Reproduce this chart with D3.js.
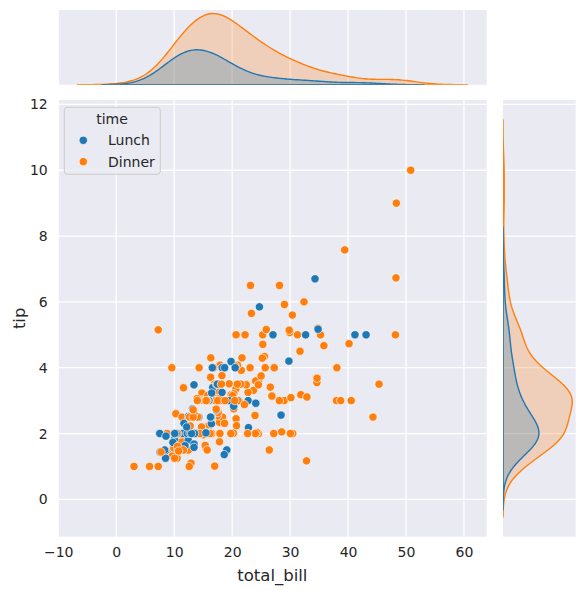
<!DOCTYPE html>
<html>
<head>
<meta charset="utf-8">
<script src="https://cdn.jsdelivr.net/npm/d3@7"></script>
<style>
  body { margin: 0; background: #fff; }
  text { font-family: "DejaVu Sans", sans-serif; fill: #262626; }
</style>
</head>
<body>
<script>
// tips data, in file order
var totalBill = [
  16.99,10.34,21.01,23.68,24.59,25.29,8.77,26.88,15.04,14.78,
  10.27,35.26,15.42,18.43,14.83,21.58,10.33,16.29,16.97,20.65,
  17.92,20.29,15.77,39.42,19.82,17.81,13.37,12.69,21.7,19.65,
  9.55,18.35,15.06,20.69,17.78,24.06,16.31,16.93,18.69,31.27,
  16.04,17.46,13.94,9.68,30.4,18.29,22.23,32.4,28.55,18.04,
  12.54,10.29,34.81,9.94,25.56,19.49,38.01,26.41,11.24,48.27,
  20.29,13.81,11.02,18.29,17.59,20.08,16.45,3.07,20.23,15.01,
  12.02,17.07,26.86,25.28,14.73,10.51,17.92,27.2,22.76,17.29,
  19.44,16.66,10.07,32.68,15.98,34.83,13.03,18.28,24.71,21.16,
  28.97,22.49,5.75,16.32,22.75,40.17,27.28,12.03,21.01,12.46,
  11.35,15.38,44.3,22.42,20.92,15.36,20.49,25.21,18.24,14.31,
  14.0,7.25,38.07,23.95,25.71,17.31,29.93,10.65,12.43,24.08,
  11.69,13.42,14.26,15.95,12.48,29.8,8.52,14.52,11.38,22.82,
  19.08,20.27,11.17,12.26,18.26,8.51,10.33,14.15,16.0,13.16,
  17.47,34.3,41.19,27.05,16.43,8.35,18.64,11.87,9.78,7.51,
  14.07,13.13,17.26,24.55,19.77,29.85,48.17,25.0,13.39,16.49,
  21.5,12.66,16.21,13.81,17.51,24.52,20.76,31.71,10.59,10.63,
  50.81,15.81,7.25,31.85,16.82,32.9,17.89,14.48,9.6,34.63,
  34.65,23.33,45.35,23.17,40.55,20.69,20.9,30.46,18.15,23.1,
  15.69,19.81,28.44,15.48,16.58,7.56,10.34,43.11,13.0,13.51,
  18.71,12.74,13.0,16.4,20.53,16.47,26.59,38.73,24.27,12.76,
  30.06,25.89,48.33,13.27,28.17,12.9,28.15,11.59,7.74,30.14,
  12.16,13.42,8.58,15.98,13.42,16.27,10.09,20.45,13.28,22.12,
  24.01,15.69,11.61,10.77,15.53,10.07,12.6,32.83,35.83,29.03,
  27.18,22.67,17.82,18.78
];
var tip = [
  1.01,1.66,3.5,3.31,3.61,4.71,2.0,3.12,1.96,3.23,
  1.71,5.0,1.57,3.0,3.02,3.92,1.67,3.71,3.5,3.35,
  4.08,2.75,2.23,7.58,3.18,2.34,2.0,2.0,4.3,3.0,
  1.45,2.5,3.0,2.45,3.27,3.6,2.0,3.07,2.31,5.0,
  2.24,2.54,3.06,1.32,5.6,3.0,5.0,6.0,2.05,3.0,
  2.5,2.6,5.2,1.56,4.34,3.51,3.0,1.5,1.76,6.73,
  3.21,2.0,1.98,3.76,2.64,3.15,2.47,1.0,2.01,2.09,
  1.97,3.0,3.14,5.0,2.2,1.25,3.08,4.0,3.0,2.71,
  3.0,3.4,1.83,5.0,2.03,5.17,2.0,4.0,5.85,3.0,
  3.0,3.5,1.0,4.3,3.25,4.73,4.0,1.5,3.0,1.5,
  2.5,3.0,2.5,3.48,4.08,1.64,4.06,4.29,3.76,4.0,
  3.0,1.0,4.0,2.55,4.0,3.5,5.07,1.5,1.8,2.92,
  2.31,1.68,2.5,2.0,2.52,4.2,1.48,2.0,2.0,2.18,
  1.5,2.83,1.5,2.0,3.25,1.25,2.0,2.0,2.0,2.75,
  3.5,6.7,5.0,5.0,2.3,1.5,1.36,1.63,1.73,2.0,
  2.5,2.0,2.74,2.0,2.0,5.14,5.0,3.75,2.61,2.0,
  3.5,2.5,2.0,2.0,3.0,3.48,2.24,4.5,1.61,2.0,
  10.0,3.16,5.15,3.18,4.0,3.11,2.0,2.0,4.0,3.55,
  3.68,5.65,3.5,6.5,3.0,5.0,3.5,2.0,3.5,4.0,
  1.5,4.19,2.56,2.02,4.0,1.44,2.0,5.0,2.0,2.0,
  4.0,2.01,2.0,2.5,4.0,3.23,3.41,3.0,2.03,2.23,
  2.0,5.16,9.0,2.5,6.5,1.1,3.0,1.5,1.44,3.09,
  2.2,3.48,1.92,3.0,1.58,2.5,2.0,3.0,2.72,2.88,
  2.0,3.0,3.39,1.47,3.0,1.25,1.0,1.17,4.67,5.92,
  2.0,2.0,1.75,3.0
];
// L = Lunch, D = Dinner, one letter per row
var timeCode = [
  'DDDDDDDDDD','DDDDDDDDDD','DDDDDDDDDD','DDDDDDDDDD','DDDDDDDDDD',
  'DDDDDDDDDD','DDDDDDDDDD','DDDDDDDLLL','LLLLLLLLLL','DDDDDDDDDD',
  'DDDDDDDDDD','DDDDDDDLLL','LLLLLLLLLL','LLLLLLLLLL','LLLLLLLLLL',
  'DDDDDDDDDD','DDDDDDDDDD','DDDDDDDDDD','DDDDDDDDDD','DLLLLLLLLL',
  'LLLLLLDDDD','DDDDDDDDDD','LLLLLLLDDD','DDDDDDDDDD','DDDD'
].join('');
var timeLevels = ['Lunch', 'Dinner'];
var timeColors = ['#1f77b4', '#ff7f0e'];
var xTicks = [-10, 0, 10, 20, 30, 40, 50, 60];
var yTicks = [0, 2, 4, 6, 8, 10, 12];

var rows = totalBill.map(function(b, i) {
  return { bill: b, tip: tip[i], time: timeCode[i] == 'L' ? 'Lunch' : 'Dinner' };
});

// gaussian kde, scott's rule like scipy, cut = 3, 200 points
function kde(vals, total) {
  var n = vals.length;
  var bw = Math.pow(n, -0.2) * d3.deviation(vals);
  var lo = d3.min(vals) - 3 * bw, hi = d3.max(vals) + 3 * bw;
  var pts = [];
  for (var k = 0; k < 200; k++) {
    var s = lo + (hi - lo) * k / 199;
    var sum = 0;
    vals.forEach(function(v) { var z = (s - v) / bw; sum += Math.exp(-0.5 * z * z); });
    pts.push([s, sum / (n * bw * Math.sqrt(2 * Math.PI)) * n / total]);
  }
  return pts;
}

var N = rows.length;
var kdeX = {}, kdeY = {};
timeLevels.forEach(function(t) {
  var sub = rows.filter(function(r) { return r.time == t; });
  kdeX[t] = kde(sub.map(function(r) { return r.bill; }), N);
  kdeY[t] = kde(sub.map(function(r) { return r.tip; }), N);
});

function padded(lo, hi) { var m = (hi - lo) * 0.05; return [lo - m, hi + m]; }
var allX = d3.merge(timeLevels.map(function(t) { return kdeX[t]; }));
var allY = d3.merge(timeLevels.map(function(t) { return kdeY[t]; }));
var xlim = padded(d3.min(allX, function(p) { return p[0]; }), d3.max(allX, function(p) { return p[0]; }));
var ylim = padded(d3.min(allY, function(p) { return p[0]; }), d3.max(allY, function(p) { return p[0]; }));

var main = { l: 58, r: 486.7, t: 100, b: 536.7 };
var topM = { l: 58, r: 486.7, t: 10, b: 84.7 };
var rightM = { l: 503, r: 575.7, t: 100, b: 536.7 };

var x = d3.scaleLinear().domain(xlim).range([main.l, main.r]);
var y = d3.scaleLinear().domain(ylim).range([main.b, main.t]);
var denX = d3.scaleLinear().domain([0, d3.max(allX, function(p) { return p[1]; }) * 1.05]).range([topM.b, topM.t]);
var denY = d3.scaleLinear().domain([0, d3.max(allY, function(p) { return p[1]; }) * 1.05]).range([rightM.l, rightM.r]);

var svg = d3.select('body').append('svg')
            .attr('width', 585)
            .attr('height', 590);

var defs = svg.append('defs');
[['clipMain', main], ['clipTop', topM], ['clipRight', rightM]].forEach(function(c) {
  defs.append('clipPath').attr('id', c[0]).append('rect')
      .attr('x', c[1].l).attr('y', c[1].t)
      .attr('width', c[1].r - c[1].l).attr('height', c[1].b - c[1].t);
});

[main, topM, rightM].forEach(function(a) {
  svg.append('rect')
     .attr('x', a.l).attr('y', a.t)
     .attr('width', a.r - a.l).attr('height', a.b - a.t)
     .style('fill', '#eaeaf2');
});

// grid
var grid = svg.append('g').style('stroke', '#fff').style('stroke-width', 1.3);
xTicks.forEach(function(v) {
  grid.append('line').attr('x1', x(v)).attr('x2', x(v)).attr('y1', main.t).attr('y2', main.b);
  grid.append('line').attr('x1', x(v)).attr('x2', x(v)).attr('y1', topM.t).attr('y2', topM.b);
});
yTicks.forEach(function(v) {
  grid.append('line').attr('y1', y(v)).attr('y2', y(v)).attr('x1', main.l).attr('x2', main.r);
  grid.append('line').attr('y1', y(v)).attr('y2', y(v)).attr('x1', rightM.l).attr('x2', rightM.r);
});

// axes
var xAxis = svg.append('g')
  .attr('transform', 'translate(0,' + main.b + ')')
  .call(d3.axisBottom(x).tickValues(xTicks).tickSize(0).tickPadding(10.5));
var yAxis = svg.append('g')
  .attr('transform', 'translate(' + main.l + ',0)')
  .call(d3.axisLeft(y).tickValues(yTicks).tickSize(0).tickPadding(10.3));
[xAxis, yAxis].forEach(function(g) {
  g.select('.domain').remove();
  g.selectAll('text').style('font-size', '14px').style('font-family', '"DejaVu Sans"').style('fill', '#262626');
});

svg.append('text')
   .attr('x', (main.l + main.r) / 2).attr('y', 581)
   .attr('text-anchor', 'middle')
   .style('font-size', '16.5px')
   .text('total_bill');
svg.append('text')
   .attr('transform', 'translate(25,' + ((main.t + main.b) / 2) + ') rotate(-90)')
   .attr('text-anchor', 'middle')
   .style('font-size', '16.5px')
   .text('tip');

// scatter
var color = d3.scaleOrdinal().domain(timeLevels).range(timeColors);
svg.append('g').attr('clip-path', 'url(#clipMain)')
   .selectAll('circle')
   .data(rows)
   .enter().append('circle')
   .attr('cx', function(d) { return x(d.bill); })
   .attr('cy', function(d) { return y(d.tip); })
   .attr('r', 4.17)
   .style('fill', function(d) { return color(d.time); })
   .style('stroke', '#fff')
   .style('stroke-width', 0.67);

// marginal densities, last level drawn first
var order = timeLevels.slice().reverse();
var topG = svg.append('g').attr('clip-path', 'url(#clipTop)');
var areaX = d3.area().x(function(p) { return x(p[0]); }).y0(denX(0)).y1(function(p) { return denX(p[1]); });
order.forEach(function(t) {
  topG.append('path')
      .attr('d', areaX(kdeX[t]) )
      .style('fill', color(t)).style('fill-opacity', 0.25)
      .style('stroke', color(t)).style('stroke-width', 1.4);
});
var rightG = svg.append('g').attr('clip-path', 'url(#clipRight)');
var areaY = d3.area().y(function(p) { return y(p[0]); }).x0(denY(0)).x1(function(p) { return denY(p[1]); });
order.forEach(function(t) {
  rightG.append('path')
      .attr('d', areaY(kdeY[t]))
      .style('fill', color(t)).style('fill-opacity', 0.25)
      .style('stroke', color(t)).style('stroke-width', 1.4);
});

// legend
var leg = svg.append('g');
leg.append('rect')
   .attr('x', 64.3).attr('y', 107.3)
   .attr('width', 96).attr('height', 67)
   .attr('rx', 3)
   .style('fill', '#eaeaf2').style('fill-opacity', 0.8)
   .style('stroke', '#cccccc').style('stroke-width', 1);
leg.append('text')
   .attr('x', 112).attr('y', 124.3)
   .attr('text-anchor', 'middle')
   .style('font-size', '14px')
   .text('time');
timeLevels.forEach(function(t, i) {
  leg.append('circle')
     .attr('cx', 83.3).attr('cy', 140.3 + i * 21.4)
     .attr('r', 4.17)
     .style('fill', color(t)).style('stroke', '#fff').style('stroke-width', 0.67);
  leg.append('text')
     .attr('x', 108).attr('y', 145 + i * 21.7)
     .style('font-size', '14px')
     .text(t);
});
</script>
</body>
</html>
